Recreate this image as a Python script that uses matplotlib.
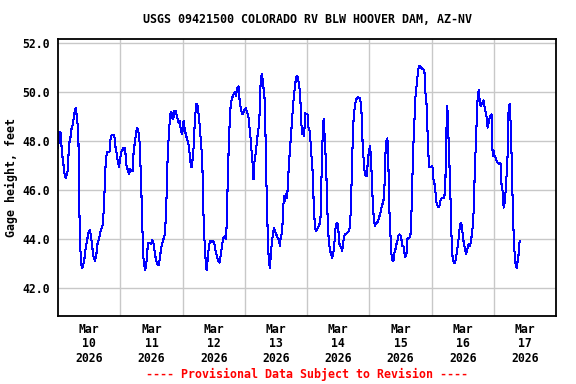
import numpy as np
import matplotlib
matplotlib.use("Agg")
from matplotlib import pyplot as plt

# hours since 2026-03-10 00:00 and gage height (feet)
hours = [0.14, 0.3, 0.65, 1.17, 1.43, 1.94, 2.45, 2.97, 3.74, 4.25, 4.76, 5.28, 5.79, 6.18, 6.82, 7.33, 7.85,
         8.23, 8.62, 9.13, 9.64, 10.16, 10.67, 11.18, 11.70, 12.21, 12.72, 13.24, 13.75, 14.26, 14.78, 15.29,
         15.81, 16.32, 16.83, 17.35, 17.86, 18.25, 18.63, 19.02, 19.92, 20.17, 20.69, 21.71, 21.97, 22.48,
         23.0, 23.51, 24.03, 24.54,
         25.05, 25.57, 25.82, 26.08, 26.47, 26.85, 27.36, 27.88, 28.39, 28.78, 29.16, 29.68, 30.19, 30.57,
         30.96, 31.47, 31.99, 32.5, 32.76, 33.14, 33.53, 34.04, 34.43, 34.81, 35.33, 35.84, 36.35, 36.87,
         37.38, 37.89, 38.41, 38.92, 39.43, 39.95, 40.46, 40.98, 41.23, 41.75, 42.13, 42.52, 42.9, 43.29,
         43.67, 44.06, 44.44, 44.83, 45.34, 45.85, 46.37, 46.88, 47.4, 47.91, 48.42, 48.94, 49.45, 49.96,
         50.47, 50.99, 51.5, 51.76, 52.27, 52.78, 53.3, 53.68, 54.07, 54.58, 55.1, 55.61, 55.99, 56.38,
         56.89, 57.28, 57.79, 58.18, 58.69, 59.2, 59.72, 60.23, 60.75, 61.26, 61.77, 62.29, 62.8, 63.31,
         63.83, 64.34, 64.85, 65.11, 65.5, 65.88, 66.27, 66.65, 67.17, 67.68, 68.19, 68.58, 68.96, 69.22,
         69.6, 69.99, 70.5, 71.02, 71.53, 72.04, 72.43, 72.82, 73.33, 73.84, 74.36, 74.87, 75.25,
         75.38, 75.77, 76.15, 76.66, 77.18, 77.56, 77.95, 78.33, 78.72, 79.1, 79.49, 79.87, 80.26, 80.64,
         80.9, 81.29, 81.67, 82.06, 82.44, 82.83, 83.34, 83.6, 84.11, 84.62, 85.14, 85.52, 85.91, 86.42,
         86.81, 87.19, 87.58, 87.96, 88.35, 88.73, 89.12, 89.5, 89.89, 90.27, 90.66, 91.04, 91.43, 91.82,
         92.2, 92.59, 92.97, 93.36, 93.74, 94.13, 94.51, 94.9, 95.28, 95.67, 96.18, 96.57, 97.08, 97.46,
         97.85, 98.24, 98.62, 99.01, 99.39, 99.78, 100.29, 100.8,
         101.2, 101.58, 101.97, 102.22, 102.48, 102.86, 103.38, 103.76, 104.15, 104.53, 104.92, 105.3,
         105.69, 106.07, 106.46, 106.84, 107.23, 107.61, 108.0, 108.39, 108.77, 109.28, 109.54, 109.93,
         110.31, 110.7, 111.08, 111.6, 112.11, 112.49, 112.88, 113.26, 113.65, 114.03, 114.42, 114.81,
         115.19, 115.58, 115.96, 116.35, 116.73, 117.12, 117.5, 117.89, 118.27, 118.66, 119.04, 119.56,
         119.94, 120.33, 120.71, 121.1, 121.48, 121.87, 122.25, 122.64, 123.02, 123.41, 123.92, 124.31,
         124.69, 125.08, 125.46, 125.85,
         126.23, 126.62, 127.0, 127.39, 127.77, 128.16, 128.54, 128.93, 129.31, 129.7, 130.08, 130.47,
         130.85, 131.24, 131.62, 132.01, 132.39, 132.78, 133.16, 133.55, 133.93, 134.32, 134.7, 135.09,
         135.47, 135.86, 136.25, 136.63, 137.02, 137.4, 137.79, 138.17, 138.56, 138.94, 139.33, 139.71,
         140.1, 140.48, 140.87, 141.25, 141.64, 142.02, 142.41, 142.79, 143.18, 143.56, 143.95, 144.33,
         144.72, 145.1, 145.49, 145.88, 146.26, 146.65, 147.03, 147.42, 147.8, 148.19, 148.57, 148.96,
         149.34, 149.6, 149.86, 150.11, 150.37, 150.75, 151.14, 151.52,
         151.65, 151.91, 152.29, 152.68, 153.06, 153.45, 153.83, 154.22, 154.6, 154.99, 155.37, 155.76,
         156.14, 156.53, 156.91, 157.3, 157.68, 158.07, 158.45, 158.84, 159.23, 159.61, 160.0, 160.38,
         160.77, 161.15, 161.54, 161.92, 162.18, 162.56, 162.95, 163.33, 163.72, 164.1, 164.49, 164.87,
         165.26, 165.65, 166.03, 166.42, 166.8, 167.19, 167.57, 167.96, 168.34, 168.73, 169.11, 169.5,
         169.88, 170.27, 170.65, 171.04, 171.42, 171.81, 172.19, 172.58, 172.96, 173.35, 173.73, 174.12,
         174.5, 174.89, 175.28, 175.66, 176.05, 176.43, 176.82, 177.2, 177.59, 177.97]

gage = [47.74, 48.39, 48.39, 48.3, 47.6, 47.2, 46.72, 46.5, 46.8, 47.88, 48.12, 48.56, 48.7, 49.1, 49.35, 48.97, 48.29,
        45.16, 43.59, 42.82, 42.9, 43.18, 43.66, 43.93, 44.27, 44.37, 44.14, 43.66, 43.25, 43.12, 43.39, 43.86,
        44.0, 44.31, 44.48, 44.64, 45.73, 46.86, 47.4, 47.58, 47.58, 48.05, 48.26, 48.26, 47.88, 47.6,
        47.2, 46.95, 47.33, 47.6,
        47.71, 47.63, 47.71, 47.4, 46.95, 46.86, 46.68, 46.86, 46.79, 46.79, 47.58, 48.01, 48.42, 48.53,
        48.42, 47.95, 46.45, 44.68, 43.39, 43.05, 42.73, 42.98, 43.55, 43.86, 43.86, 43.82, 43.96, 43.82,
        43.39, 43.12, 42.95, 42.95, 43.39, 43.73, 43.93, 44.14, 44.2, 45.36, 46.93, 47.88, 48.56, 49.1,
        49.21, 48.97, 48.9, 49.24, 49.24, 49.03, 48.76, 48.83, 48.42, 48.31, 48.83, 48.42, 48.22, 48.01,
        47.8, 47.2, 46.93, 47.13, 47.74, 48.9, 49.51, 49.54, 49.24, 48.69, 47.95, 47.27, 45.29, 44.14,
        43.18, 42.73, 43.25, 43.73, 43.93, 43.9, 43.93, 43.86, 43.52, 43.32, 43.12, 43.05, 43.39, 43.8,
        44.07, 44.14, 44.0, 45.09, 46.52, 48.01, 48.97, 49.58, 49.78, 49.92, 49.99, 49.85, 50.05, 50.19,
        50.24, 49.71, 49.31, 49.1, 49.17, 49.31, 49.37, 49.17, 49.1, 48.56, 48.01, 47.2, 46.95,
        46.45, 47.2, 47.47, 47.95, 48.49, 48.63, 50.05, 50.67, 50.73, 50.19, 50.12, 49.03, 46.65, 45.16,
        43.93, 43.12, 42.84, 43.39, 43.86, 44.2, 44.48, 44.34, 44.2, 44.07, 44.0, 43.73, 44.14, 44.27,
        45.29, 45.77, 45.56, 45.84, 45.70, 46.52, 47.2, 47.74, 48.35, 48.9, 49.51, 49.92, 50.33, 50.6,
        50.67, 50.53, 50.26, 49.92, 48.83, 48.29, 48.49, 48.22, 49.17, 49.1, 49.1, 48.56, 48.42, 47.81,
        47.2, 46.65, 45.29, 44.61, 44.34, 44.37, 44.48, 44.61,
        44.88, 46.52, 48.01, 48.76, 48.9, 48.01, 47.0, 45.43, 44.34, 43.8, 43.52, 43.41,
        43.25, 43.39, 43.66, 44.34, 44.61, 44.68, 44.54, 43.86, 43.73, 43.66, 43.52, 43.86,
        44.14, 44.2, 44.23, 44.27, 44.34, 44.48, 45.16, 46.65, 48.15, 49.1, 49.37, 49.65,
        49.76, 49.81, 49.76, 49.76, 49.58, 48.97, 47.67, 47.2, 46.65, 46.59, 46.59, 47.33,
        47.6, 47.81, 47.2, 46.11, 45.22, 44.75, 44.54, 44.68, 44.68, 44.75, 44.95, 45.09,
        45.29, 45.43, 45.56, 46.11,
        47.47, 48.01, 48.12, 46.93, 45.16, 44.2, 43.39, 43.14, 43.12, 43.46, 43.59, 43.8,
        43.93, 44.14, 44.2, 44.17, 44.0, 43.73, 43.73, 43.46, 43.28, 43.39, 44.0, 44.07,
        44.07, 44.14, 45.02, 46.52, 47.88, 48.83, 49.78, 50.19, 50.6, 50.94, 51.07, 51.03,
        51.0, 50.94, 50.94, 50.9, 49.99, 49.65, 48.56, 47.47, 46.93, 46.95, 46.93, 47.0,
        46.45, 46.31, 45.97, 45.5, 45.4, 45.32, 45.36, 45.56, 45.67, 45.70, 45.67, 45.77,
        46.11, 48.29, 48.69, 49.44, 48.35, 47.88, 45.97, 45.29,
        44.34, 43.46, 43.18, 43.05, 43.05, 43.25, 43.52, 43.8, 44.2, 44.61, 44.68, 44.48,
        44.07, 43.8, 43.59, 43.41, 43.52, 43.73, 43.8, 43.73, 43.93, 44.27, 44.61, 45.5,
        47.2, 47.88, 49.37, 49.92, 50.08, 49.65, 49.44, 49.51, 49.58, 49.67, 49.37, 49.17,
        48.97, 48.56, 48.76, 48.97, 49.07, 49.1, 47.4, 47.6, 47.4, 47.33, 47.2, 47.13,
        47.09, 47.13, 47.06, 46.11, 45.97, 45.29, 45.5, 45.97, 46.65, 47.47, 49.37, 49.51,
        48.76, 47.33, 45.56, 44.2, 43.39, 42.98, 42.84, 43.12, 43.39, 43.93]

days = ["10", "11", "12", "13", "14", "15", "16", "17"]
yticks = [42.0, 44.0, 46.0, 48.0, 50.0, 52.0]

font = "DejaVu Sans Mono"

fig = plt.figure(figsize=(5.76, 3.84), dpi=100)
ax = fig.add_axes([0.1007, 0.177, 0.8646, 0.7207])

ax.plot(hours, gage, color="#0000ff", lw=0.75, antialiased=False)

ax.set_xlim(0, 24 * len(days))
ax.set_ylim(40.87, 52.16)

# day labels at noon, grid lines at midnight
ax.set_xticks([12 + 24 * i for i in range(len(days))])
ax.set_xticklabels(["Mar\n%s\n2026" % d for d in days])
ax.set_xticks([24 * i for i in range(1, len(days))], minor=True)
ax.set_yticks(yticks)
ax.set_yticklabels(["%.1f" % v for v in yticks])

ax.grid(False)
ax.grid(True, which="minor", axis="x", color="#c8c8c8", lw=1)
ax.grid(True, which="major", axis="y", color="#c8c8c8", lw=1)
ax.set_axisbelow(True)
ax.tick_params(which="both", length=0)
ax.tick_params(axis="x", pad=5)
ax.tick_params(axis="y", pad=6)
for lab in ax.get_xticklabels() + ax.get_yticklabels():
    lab.set_fontfamily(font)
    lab.set_fontweight("bold")
    lab.set_fontsize(8.3)
for lab in ax.get_xticklabels():
    lab.set_linespacing(1.15)

for s in ax.spines.values():
    s.set_linewidth(1.3)
    s.set_color("black")

ax.set_ylabel("Gage height, feet", fontfamily=font, fontweight="bold", fontsize=8.4, labelpad=3)

fig.text(0.533, 0.95, "USGS 09421500 COLORADO RV BLW HOOVER DAM, AZ-NV",
         ha="center", va="center", fontfamily=font, fontweight="bold", fontsize=8.4)
fig.text(0.533, 0.024, "---- Provisional Data Subject to Revision ----",
         ha="center", va="center", fontfamily=font, fontweight="bold", fontsize=8.4, color="red")

fig.savefig("out.png", dpi=100, facecolor="white")
